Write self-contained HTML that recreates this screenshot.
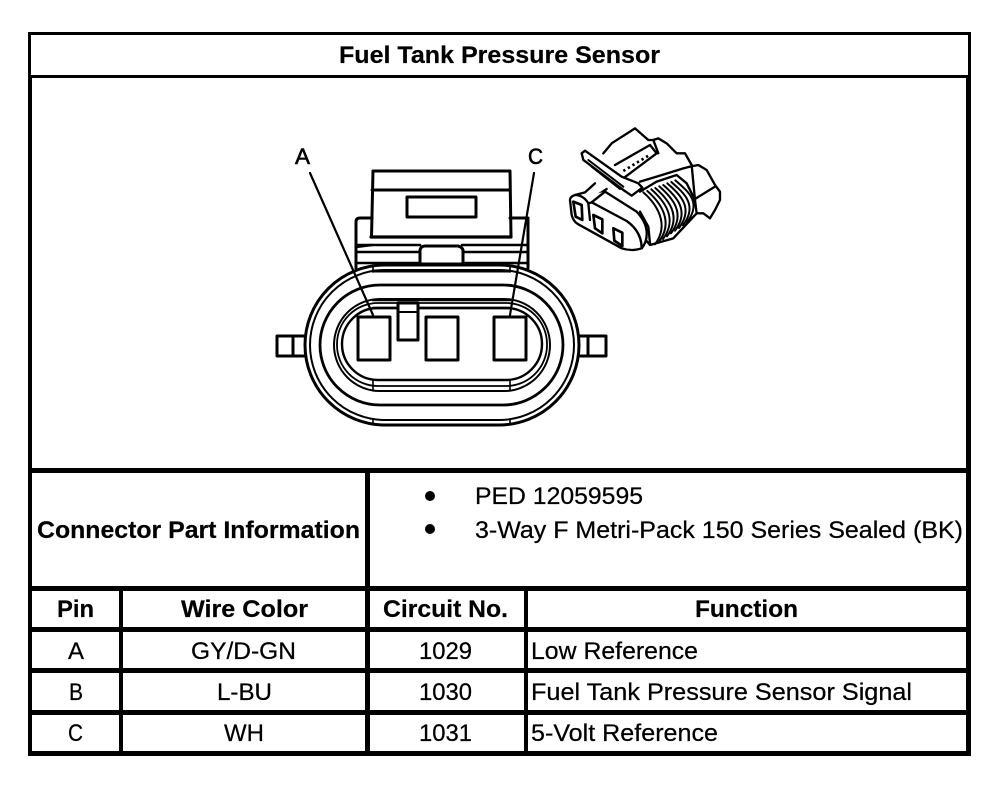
<!DOCTYPE html>
<html><head><meta charset="utf-8"><title>Fuel Tank Pressure Sensor</title>
<style>
html,body{margin:0;padding:0;background:#fff}
svg{display:block}
text{font-family:"Liberation Sans",sans-serif;fill:#000;font-size:24.5px;stroke:#000;stroke-width:.25px}
.b{font-weight:bold;font-size:24.5px;stroke-width:.2px}
.l{fill:none;stroke:#000;stroke-linejoin:round;stroke-linecap:round}
</style></head><body>
<svg width="1008" height="792" viewBox="0 0 1008 792" xmlns="http://www.w3.org/2000/svg">
<rect width="1008" height="792" fill="#fff"/>
<!-- table frame -->
<g fill="#000">
<rect x="28" y="32" width="943" height="3"/>
<rect x="28" y="75" width="943" height="3"/>
<rect x="28" y="32" width="3" height="436"/>
<rect x="968" y="32" width="3" height="436"/>
<rect x="28" y="468" width="943" height="5"/>
<rect x="28" y="586" width="943" height="5"/>
<rect x="28" y="627" width="943" height="5"/>
<rect x="28" y="668" width="943" height="5"/>
<rect x="28" y="710" width="943" height="5"/>
<rect x="28" y="751" width="943" height="5"/>
<rect x="28" y="75" width="4" height="680"/>
<rect x="966" y="75" width="5" height="680"/>
<rect x="119" y="586" width="4" height="169"/>
<rect x="365" y="468" width="5" height="287"/>
<rect x="524" y="586" width="4" height="169"/>
<circle cx="430" cy="496" r="5"/>
<circle cx="430" cy="529" r="5"/>
</g>
<!-- text -->
<text class="b" x="339" y="63" textLength="321" lengthAdjust="spacingAndGlyphs">Fuel Tank Pressure Sensor</text>
<text class="b" x="37" y="538" textLength="323" lengthAdjust="spacingAndGlyphs">Connector Part Information</text>
<text x="475" y="504" textLength="168" lengthAdjust="spacingAndGlyphs">PED 12059595</text>
<text x="475" y="538" textLength="488" lengthAdjust="spacingAndGlyphs">3-Way F Metri-Pack 150 Series Sealed (BK)</text>
<text class="b" x="57" y="617" textLength="37" lengthAdjust="spacingAndGlyphs">Pin</text>
<text class="b" x="181" y="617" textLength="127" lengthAdjust="spacingAndGlyphs">Wire Color</text>
<text class="b" x="383" y="617" textLength="125" lengthAdjust="spacingAndGlyphs">Circuit No.</text>
<text class="b" x="695" y="617" textLength="103" lengthAdjust="spacingAndGlyphs">Function</text>
<text x="68" y="659" textLength="16" lengthAdjust="spacingAndGlyphs">A</text>
<text x="69" y="700" textLength="14" lengthAdjust="spacingAndGlyphs">B</text>
<text x="68" y="741" textLength="15" lengthAdjust="spacingAndGlyphs">C</text>
<text x="191" y="659" textLength="105" lengthAdjust="spacingAndGlyphs">GY/D-GN</text>
<text x="217" y="700" textLength="55" lengthAdjust="spacingAndGlyphs">L-BU</text>
<text x="224" y="741" textLength="40" lengthAdjust="spacingAndGlyphs">WH</text>
<text x="419" y="659" textLength="53" lengthAdjust="spacingAndGlyphs">1029</text>
<text x="419" y="700" textLength="53" lengthAdjust="spacingAndGlyphs">1030</text>
<text x="419" y="741" textLength="53" lengthAdjust="spacingAndGlyphs">1031</text>
<text x="531" y="659" textLength="167" lengthAdjust="spacingAndGlyphs">Low Reference</text>
<text x="531" y="700" textLength="381" lengthAdjust="spacingAndGlyphs">Fuel Tank Pressure Sensor Signal</text>
<text x="531" y="741" textLength="187" lengthAdjust="spacingAndGlyphs">5-Volt Reference</text>
<text x="295" y="164" style="font-size:22px;stroke-width:.6px" textLength="15" lengthAdjust="spacingAndGlyphs">A</text>
<text x="528" y="164" style="font-size:22px;stroke-width:.6px" textLength="15" lengthAdjust="spacingAndGlyphs">C</text>

<!-- main connector -->
<g class="l" stroke-width="2.6">
<path d="M373 171H510M373 171L371.5 237M510 171L511 237" stroke-width="3"/>
<path d="M372 190H510" stroke-width="3"/>
<rect x="407" y="197" width="69" height="20" stroke-width="3"/>
<path d="M372 218H360Q356 218 356 222V268" stroke-width="3"/>
<path d="M510 218H528V268" stroke-width="3"/>
<path d="M356 247L372 245"/>
<path d="M371 237H511" stroke-width="3.2"/>
<path d="M357 245H420M462 245H528"/>
<path d="M357 252H419M464 252H528"/>
<path d="M357 263H420M463 263H528"/>
<path d="M420 264V250Q421 246 425 246H458Q462 247 463 250V264H420" fill="#fff" stroke-width="3"/>
<rect x="305" y="265" width="274" height="160" rx="80" ry="80" stroke-width="3" fill="#fff"/>
<rect x="310" y="270" width="264" height="150" rx="75" ry="75" stroke-width="2"/>
<rect x="320" y="285" width="243" height="120" rx="60" ry="60" stroke-width="2.8"/>
<rect x="334" y="299" width="216" height="92" rx="46" ry="46" stroke-width="2"/>
<rect x="337" y="303" width="210" height="83" rx="41" ry="41" stroke-width="1.8"/>
<rect x="342" y="308" width="200" height="72" rx="36" ry="36" stroke-width="2.4"/>
<path d="M373 265V272M510 265V272M373 380V391M510 380V391M373 420V425M510 420V425" stroke-width="1.6"/>
<path d="M373 271H510" stroke-width="3"/>
<path d="M373 300H510M373 308H510" stroke-width="2.6"/>
<path d="M277 336H304M277 356H304M277 336V356M293 336V356" stroke-width="3"/>
<path d="M579 336H606V356H579M588 336V356" stroke-width="3"/>
<rect x="358" y="317" width="32" height="43" stroke-width="3" fill="#fff"/>
<rect x="426" y="317" width="32" height="43" stroke-width="3" fill="#fff"/>
<rect x="494" y="317" width="32" height="43" stroke-width="3" fill="#fff"/>
<rect x="398" y="303" width="20" height="37" stroke-width="3" fill="#fff"/>
<path d="M398 312H418" stroke-width="2"/>
<path d="M310 173L373 315" stroke-width="2.2"/>
<path d="M534 173L510 315" stroke-width="2.2"/>
</g>

<!-- small connector perspective view -->
<g class="l" stroke-width="7" transform="translate(560 115) scale(.3333)">
<!-- coil -->
<g stroke-width="6">
<path d="M250 232C290 267 330 328 285 388"/>
<path d="M262 228C302 263 342 320 297 380"/>
<path d="M274 223C314 258 354 312 309 372"/>
<path d="M286 219C326 254 366 304 321 364"/>
<path d="M298 214C338 249 378 295 333 355"/>
<path d="M310 210C350 245 390 287 345 347"/>
<path d="M322 205C362 240 402 279 357 339"/>
<path d="M334 201C374 236 414 271 369 331"/>
<path d="M346 196C386 231 426 262 381 322"/>
</g>
<!-- coil borders -->
<path d="M240 230L290 200L350 180L380 205L405 255L410 295L340 370L270 390L240 355"/>
<path d="M240 200L290 185L370 160L390 155"/>
<!-- right cap -->
<path d="M390 155L415 150L440 165L465 210L480 230V255L465 285L450 310L430 295H410"/>
<path d="M400 255L465 215M395 150L405 255"/>
<!-- top cover -->
<path d="M130 115L155 85L225 40L265 75L280 75L295 70L320 85L350 115H375L395 150"/>
<path d="M165 150L270 90L290 115L190 190"/>
<path d="M190 168L265 122" stroke-dasharray="7 9" stroke-linecap="butt" stroke-width="8"/>
<path d="M280 75L295 115"/>
<!-- body -->
<path d="M30 255Q30 245 45 240L75 232L105 205M80 262L140 222"/>
<path d="M30 255L35 300Q40 320 55 328L185 400Q215 410 245 400Q262 380 260 350Q258 320 230 290L135 230" fill="#fff"/>
<path d="M45 240Q70 240 85 265L95 262L135 230"/>
<path d="M85 265L90 315M95 262L200 318Q245 350 245 400"/>
<path d="M240 290L265 335L270 385"/>
<path d="M40 260L65 270L67 315L47 305Z" stroke-width="8"/>
<path d="M100 300L127 313V355L105 340Z" stroke-width="8"/>
<path d="M160 340L187 353V393L163 377Z" stroke-width="8"/>
<!-- lever -->
<path d="M65 115L75 107L185 185L235 205L247 218L215 242L190 225L70 135Z" fill="#fff"/>
<path d="M85 135L190 215M95 155L180 222" stroke-width="6"/>
</g>
</svg>
</body></html>
